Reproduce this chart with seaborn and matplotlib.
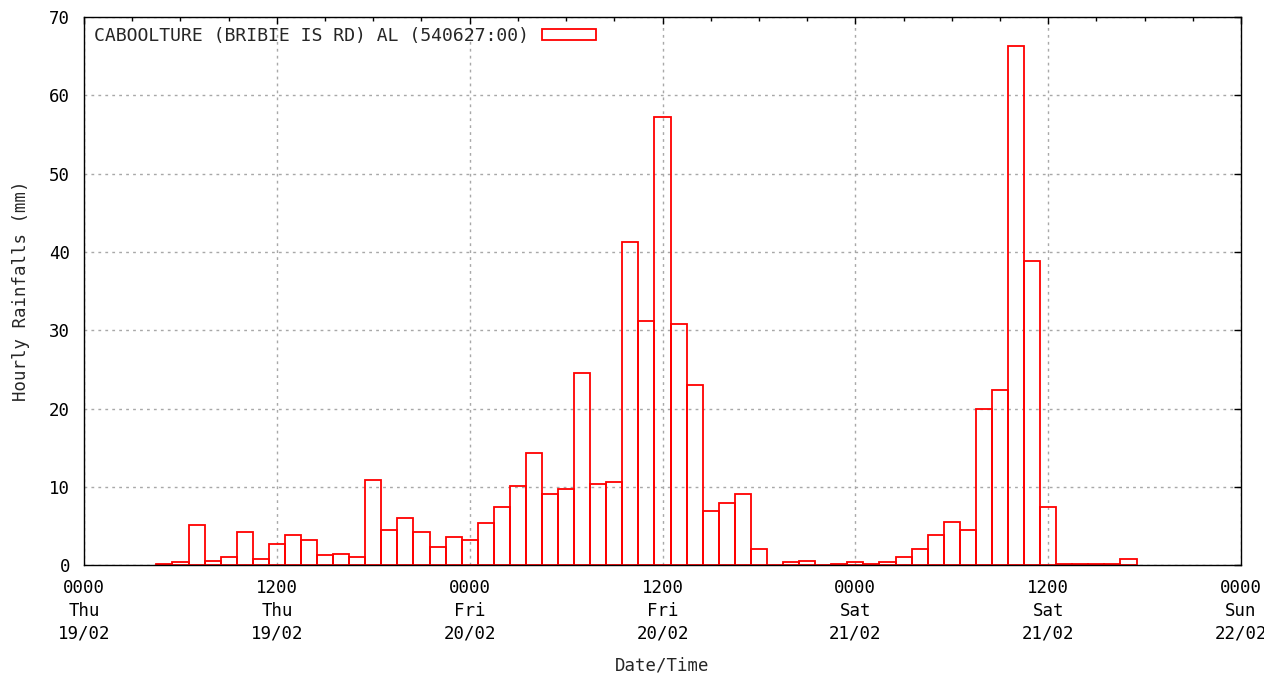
"""
Hourly rainfall bar chart for Caboolture (Bribie Is Rd) AL, 19-22 Feb.
"""

import pandas as pd
import matplotlib
matplotlib.use("Agg")
import matplotlib.pyplot as plt
from matplotlib.patches import Patch
from matplotlib.ticker import MultipleLocator
import seaborn as sns


STATION = "CABOOLTURE (BRIBIE IS RD) AL (540627:00)"

# hours since 0000 Thu 19/02
hours = list(range(5, 66))
rain_mm = [
    0.2, 0.4, 5.2, 0.6, 1.1, 4.3, 0.8, 2.8, 3.9, 3.2,      # 5-14
    1.3, 1.5, 1.1, 10.9, 4.5, 6.1, 4.3, 2.4, 3.6, 3.2,     # 15-24
    5.4, 7.4, 10.2, 14.3, 9.1, 9.8, 24.5, 10.4, 10.7, 41.3,  # 25-34
    31.2, 57.2, 30.8, 23.0, 6.9, 8.0, 9.1, 2.1, 0.0, 0.4,  # 35-44
    0.6, 0.0, 0.2, 0.4, 0.2, 0.4, 1.1, 2.1, 3.9, 5.6,      # 45-54
    4.5, 20.0, 22.4, 66.3, 38.9, 7.4, 0.2, 0.2, 0.2, 0.2,  # 55-64
    0.8,                                                   # 65
]

tick_hours = [0, 12, 24, 36, 48, 60, 72]
tick_labels = [
    "0000\nThu\n19/02", "1200\nThu\n19/02",
    "0000\nFri\n20/02", "1200\nFri\n20/02",
    "0000\nSat\n21/02", "1200\nSat\n21/02",
    "0000\nSun\n22/02",
]

FS = 12.5


def plot_rainfall():
    df = pd.DataFrame({"Hour": hours, "Rain": rain_mm})

    sns.set_style("white")
    plt.rcParams["font.family"] = ["DejaVu Sans Mono", "DejaVu Sans"]
    plt.rcParams["font.size"] = FS

    fig = plt.figure(figsize=(12.64, 6.79), dpi=100)
    ax = fig.add_axes([0.0665, 0.1672, 0.9153, 0.8078])

    sns.barplot(x="Hour", y="Rain", data=df, native_scale=True, width=1,
                color="red", fill=False, linewidth=1.3, errorbar=None, ax=ax)
    for p in ax.patches:
        p.set_edgecolor("red")
        p.set_facecolor("none")
        p.set_linewidth(1.3)

    ax.set_xlim(0, 72)
    ax.set_ylim(0, 70)
    ax.set_xticks(tick_hours)
    # the last label runs off the right edge, as in the original
    ax.set_xticklabels(tick_labels, linespacing=1.32)
    ax.xaxis.set_minor_locator(MultipleLocator(3))
    ax.yaxis.set_major_locator(MultipleLocator(10))

    ax.tick_params(axis="both", which="both", direction="in",
                   top=True, right=True, colors="black", labelsize=FS)
    ax.tick_params(axis="both", which="major", length=5, width=1)
    ax.tick_params(axis="both", which="minor", length=3, width=1)
    ax.tick_params(axis="x", which="major", pad=10)
    ax.tick_params(axis="y", which="major", pad=10)

    ax.grid(True, which="major", color="#a8a8a8", linestyle=(0, (2, 3)),
            linewidth=1)
    ax.set_axisbelow(True)
    for s in ax.spines.values():
        s.set_color("black")
        s.set_linewidth(1)
        s.set_zorder(5)

    ax.set_xlabel("Date/Time", fontsize=FS, labelpad=10)
    ax.set_ylabel("Hourly Rainfalls (mm)", fontsize=FS, labelpad=14)

    handle = Patch(facecolor="white", edgecolor="red", linewidth=1.3)
    ax.legend([handle], [STATION], loc="upper left", frameon=False,
              markerfirst=False, handlelength=3.0, handleheight=0.6,
              handletextpad=0.7, borderaxespad=0.25, borderpad=0.3,
              fontsize=13.1)

    fig.savefig("out.png", dpi=100)


if __name__ == "__main__":
    plot_rainfall()
